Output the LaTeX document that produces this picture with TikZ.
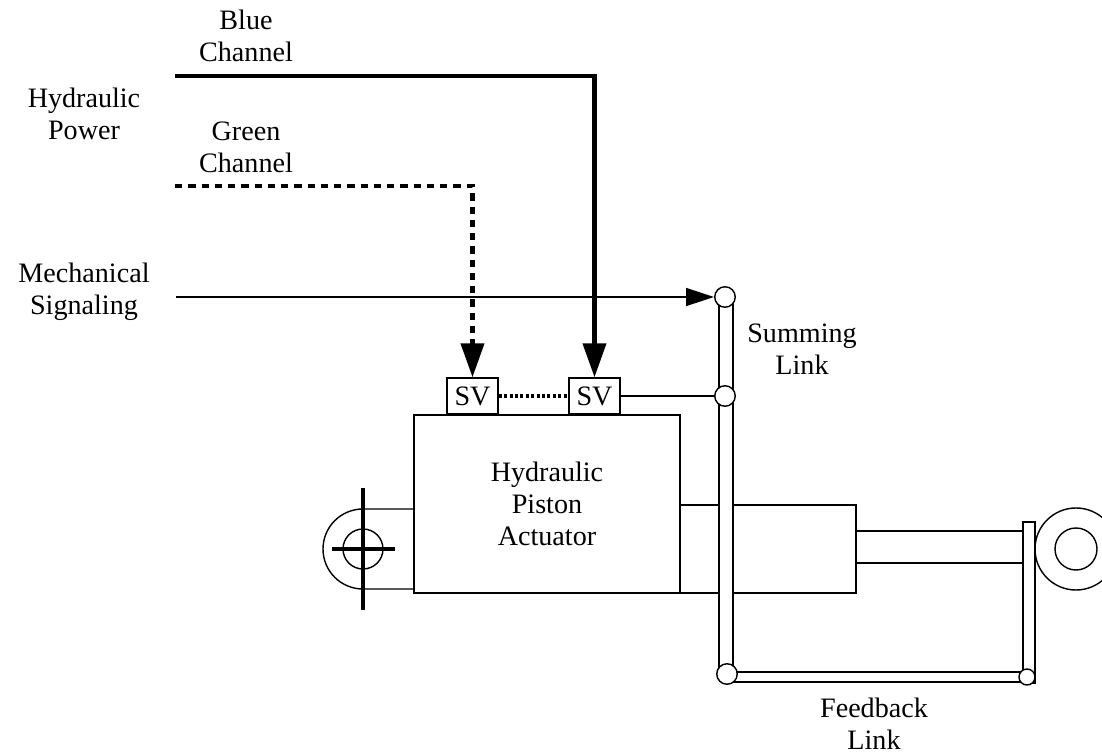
\documentclass[tikz,border=0pt]{standalone}
\usepackage{fontspec}
\setmainfont{Liberation Serif}
\usepackage{tikz}
\usetikzlibrary{positioning,arrows,arrows.meta}
\tikzstyle{lbl} = [align=center, inner sep=0pt, font=\fontsize{16}{18.2}\selectfont]
\tikzstyle{svbox} = [draw, fill=white, minimum width=10.2mm, minimum height=7.2mm]
\tikzstyle{pin} = [draw, circle, fill=white, inner sep=0pt, minimum size=4.1mm]
\tikzstyle{bar} = [draw, fill=white]
\tikzstyle{hyd} = [line width=2.3pt, -{Triangle[length=6.8mm, width=4.6mm]}]

\begin{document}
\begin{tikzpicture}[x=0.2mm, y=-0.2mm, line width=0.8pt]
\useasboundingbox (0,0) rectangle (1102,756);

\node[lbl] (blue_lbl) at (246,36) {Blue\\Channel};
\node[lbl] (power_lbl) at (84,114) {Hydraulic\\Power};
\node[lbl] (green_lbl) at (246,147) {Green\\Channel};
\node[lbl] (mech_lbl) at (84,292) {Mechanical\\Signaling};
\node[lbl] (sum_lbl) at (802,349) {Summing\\Link};
\node[lbl] (fb_lbl) at (874,724) {Feedback\\Link};

\node[draw, lbl, minimum width=53.2mm, minimum height=35.6mm] (body) at (547,504) {Hydraulic\\Piston\\Actuator};
\draw (680,505) rectangle (856,593);
\draw (856,531) rectangle (1023,563);

\draw (414,509) -- (363,509) arc[start angle=-90, end angle=-270, radius=40] -- (414,589);
\draw (363,549) circle[radius=20];
\draw[line width=2pt] (363,488) -- (363,610);
\draw[line width=2pt] (332,549) -- (395,549);

\draw (1076,549) circle[radius=41];
\draw (1076,549) circle[radius=21];

\draw[bar] (1023,522) rectangle (1035,683);
\draw[bar] (719,297) rectangle (733,675);
\draw[bar] (727,672) rectangle (1027,682);

\node[pin] (sum_top) at (725,297) {};
\node[pin] (sum_mid) at (725,396) {};
\node[pin] (sum_bot) at (727,674) {};
\node[pin, minimum size=3.2mm] (fb_bot) at (1027,677) {};

\node[lbl, svbox] (sv_1) at (472.5,396) {SV};
\node[lbl, svbox] (sv_2) at (594.5,396) {SV};

\coordinate (blue_in) at (175,76);
\coordinate (green_in) at (175,186);
\coordinate (mech_in) at (176,297);

\draw[hyd] (blue_in) -| (sv_2.north);
\draw[hyd, dash pattern=on 1.45mm off 1.2mm] (green_in) -| (sv_1.north);
\draw[-{Triangle[length=5.6mm, width=3.6mm]}] (mech_in) -- (sum_top);
\draw (sv_2) -- (sum_mid);
\draw[line width=2pt, dash pattern=on 0.6mm off 0.48mm] (sv_1) -- (sv_2);

\end{tikzpicture}
\end{document}
